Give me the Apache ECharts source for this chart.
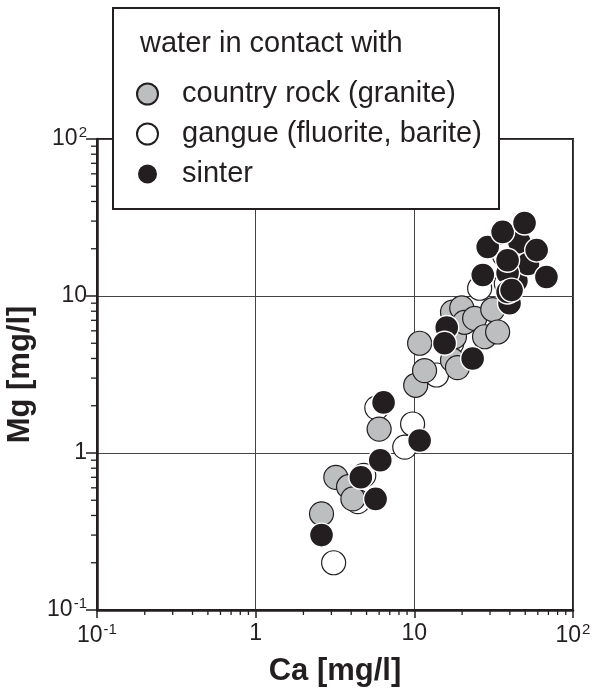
<!DOCTYPE html>
<html>
<head>
<meta charset="utf-8">
<script src="https://cdn.jsdelivr.net/npm/echarts@6/dist/echarts.min.js"></script>
<style>
  html, body { margin: 0; padding: 0; background: #ffffff; }
  #chart { width: 604px; height: 694px; }
</style>
</head>
<body>
<div id="chart"></div>
<script>
// Ca vs Mg concentrations [mg/l], grouped by the material the water was in contact with
const seriesNames = ['country rock (granite)', 'gangue (fluorite, barite)', 'sinter'];

const countryRock = [
  [2.6, 0.41], [3.2, 0.70], [3.85, 0.61], [4.1, 0.51], [6.0, 1.42],
  [10.2, 2.7], [10.8, 5.0], [11.6, 3.35], [17.4, 3.9], [18.7, 3.5],
  [17.9, 5.5], [17.4, 7.9], [19.9, 8.4], [20.7, 6.8], [24.0, 7.2],
  [27.7, 5.5], [31.2, 8.2], [33.5, 5.9]
];

const gangue = [
  [3.1, 0.20], [4.4, 0.49], [4.8, 0.72], [5.8, 1.94], [9.75, 1.53],
  [8.7, 1.09], [13.8, 3.14], [17.2, 5.0], [16.8, 6.0], [25.8, 11.2],
  [37, 18.2], [40, 16.5], [38, 12]
];

const sinter = [
  [2.6, 0.30], [4.6, 0.70], [5.7, 0.51], [6.1, 0.90], [6.4, 2.1],
  [10.8, 1.2], [16.0, 6.3], [15.5, 5.0], [23.3, 4.0], [44, 12.5],
  [46, 22], [52, 16], [27, 13.6], [68, 13.2], [59, 19.6], [29, 20.5],
  [36, 25.6], [49.5, 29.2], [38.7, 14], [39.8, 9.0], [38.7, 10.6],
  [38.7, 16.9], [41, 10.9]
];

// decade labels (exponent -1 .. 2)
const decadeLabels = ['10{sup|-1}', '1', '10', '10{sup|2}'];
// minor tick positions between decades
const minorTicks = [];
[0.1, 1, 10].forEach(function (d) {
  for (let k = 2; k <= 9; k++) minorTicks.push(+(k * d).toPrecision(3));
});

const FONT = "'Liberation Sans', Arial, Helvetica, sans-serif";
const INK = '#231f20';

function decadeLabel(v) {
  const e = Math.round(Math.log10(v));
  return decadeLabels[e + 1];
}

const labelRich = {
  sup: { fontSize: 15, fontFamily: FONT, color: INK, padding: [0, 0, 12, 1] }
};

const chart = echarts.init(document.getElementById('chart'), null, { renderer: 'canvas' });

function tickSeries(data, horizontal) {
  return {
    type: 'custom',
    coordinateSystem: 'cartesian2d',
    silent: true,
    clip: false,
    z: 1,
    data: data,
    renderItem: function (params, api) {
      const p = api.coord([api.value(0), api.value(1)]);
      const shape = horizontal
        ? { x1: p[0], y1: p[1], x2: p[0], y2: p[1] + 5 }
        : { x1: p[0] - 6, y1: p[1], x2: p[0], y2: p[1] };
      return { type: 'line', shape: shape, style: { stroke: INK, lineWidth: 1.3 } };
    }
  };
}

const option = {
  backgroundColor: '#ffffff',
  animation: false,
  textStyle: { fontFamily: FONT, color: INK },
  grid: {
    left: 97, top: 139, width: 476, height: 471,
    containLabel: false, outerBoundsMode: 'none',
    show: true, borderColor: INK, borderWidth: 2, backgroundColor: 'transparent'
  },
  xAxis: {
    type: 'log', logBase: 10, min: 0.1, max: 100,
    name: 'Ca [mg/l]', nameLocation: 'middle', nameGap: 46,
    nameTextStyle: { fontSize: 31, fontWeight: 'bold', fontFamily: FONT, color: INK },
    axisLine: { show: true, onZero: false, lineStyle: { color: INK, width: 2.5 } },
    axisTick: { show: true, inside: false, length: 8, lineStyle: { color: INK, width: 1.5 } },
    axisLabel: {
      margin: 12, fontSize: 23, color: INK, fontFamily: FONT,
      formatter: decadeLabel, rich: labelRich
    },
    splitLine: { show: true, lineStyle: { color: '#444444', width: 1 } },
    minorTick: { show: false }
  },
  yAxis: {
    type: 'log', logBase: 10, min: 0.1, max: 100,
    name: 'Mg [mg/l]', nameLocation: 'middle', nameGap: 55, nameRotate: 90,
    nameTextStyle: { fontSize: 31, fontWeight: 'bold', fontFamily: FONT, color: INK },
    axisLine: { show: true, onZero: false, lineStyle: { color: INK, width: 2.5 } },
    axisTick: { show: true, inside: false, length: 11, lineStyle: { color: INK, width: 1.5 } },
    axisLabel: {
      margin: 10, fontSize: 23, color: INK, fontFamily: FONT,
      formatter: decadeLabel, rich: labelRich
    },
    splitLine: { show: true, lineStyle: { color: '#444444', width: 1 } }
  },
  legend: {
    data: seriesNames,
    orient: 'vertical',
    left: 131, top: 74,
    itemWidth: 21, itemHeight: 21, itemGap: 10,
    z: 12,
    selectedMode: false,
    textStyle: { fontSize: 29, lineHeight: 30, fontFamily: FONT, color: INK, padding: [0, 0, 0, 19] }
  },
  graphic: [
    {
      type: 'rect', z: 10,
      shape: { x: 113, y: 8, width: 386, height: 201 },
      style: { fill: '#ffffff', stroke: INK, lineWidth: 2 }
    },
    {
      type: 'text', z: 11, left: 140, top: 29,
      style: { text: 'water in contact with', font: '29px ' + FONT, fill: INK }
    }
  ],
  series: [
    tickSeries(minorTicks.map(function (v) { return [v, 0.1]; }), true),
    tickSeries(minorTicks.map(function (v) { return [0.1, v]; }), false),
    {
      name: seriesNames[1], type: 'scatter', data: gangue, symbolSize: 24, z: 3,
      itemStyle: { color: '#ffffff', borderColor: INK, borderWidth: 1.2, opacity: 1 }
    },
    {
      name: seriesNames[0], type: 'scatter', data: countryRock, symbolSize: 24, z: 4,
      itemStyle: { color: '#bcbec0', borderColor: INK, borderWidth: 1.2, opacity: 1 }
    },
    {
      name: seriesNames[2], type: 'scatter', data: sinter, symbolSize: 24, z: 5,
      itemStyle: { color: INK, borderColor: '#ffffff', borderWidth: 1.4, opacity: 1 }
    }
  ]
};

chart.setOption(option);
</script>
</body>
</html>
